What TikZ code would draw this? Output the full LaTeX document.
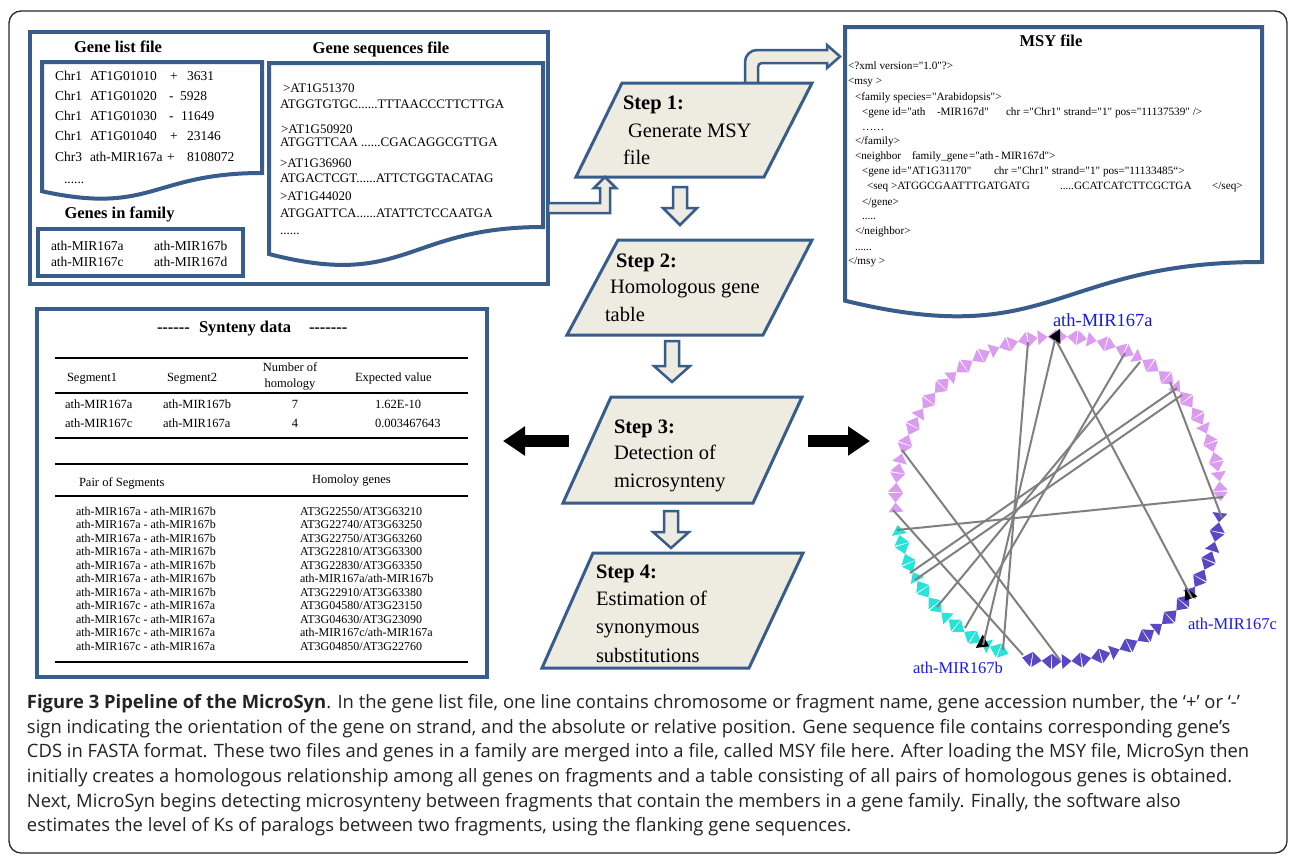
\documentclass[tikz,border=0pt]{standalone}
\usepackage{fontspec}
\newfontfamily\tnr{Liberation Serif}
\newfontfamily\capfont{Open Sans}
\usetikzlibrary{arrows.meta}
\definecolor{bluebd}{RGB}{56,93,138}
\definecolor{beige}{RGB}{238,236,225}
\definecolor{violetm}{RGB}{218,155,240}
\definecolor{cyanm}{RGB}{40,228,216}
\definecolor{indigom}{RGB}{88,72,196}
\definecolor{labblue}{RGB}{25,25,225}
\definecolor{linegray}{RGB}{128,128,128}
\definecolor{framegray}{RGB}{40,40,40}
\definecolor{captgray}{RGB}{35,35,35}
\newcommand\docpath[4]{(#1,#2) -- ({#1+#3},#2) -- ({#1+#3},{#2+0.802*#4}) .. controls ({#1+#3/2},{#2+0.802*#4}) and ({#1+#3/2},{#2+1.1075*#4}) .. (#1,{#2+0.934*#4}) -- cycle}
\begin{document}
\begin{tikzpicture}[x=1pt,y=-1pt,
  every node/.style={inner sep=0pt, outer sep=0pt},
  gl/.style={anchor=base west, font=\tnr\fontsize{13.5}{16}\selectfont},
  sq/.style={anchor=base west, font=\tnr\fontsize{13}{15}\selectfont},
  ttl/.style={anchor=base, font=\tnr\bfseries\fontsize{16.5}{20}\selectfont},
  ttlw/.style={anchor=base west, font=\tnr\bfseries\fontsize{16.5}{20}\selectfont},
  xml/.style={anchor=base west, font=\tnr\fontsize{11.2}{13}\selectfont},
  stp/.style={anchor=base west, font=\tnr\fontsize{20.5}{24}\selectfont},
  stpb/.style={anchor=base west, font=\tnr\bfseries\fontsize{20.5}{24}\selectfont},
  tb/.style={anchor=base west, font=\tnr\fontsize{12.5}{15}\selectfont},
  tbc/.style={anchor=base, font=\tnr\fontsize{12.5}{15}\selectfont},
  tc/.style={anchor=base west, font=\tnr\fontsize{12}{14}\selectfont},
  lab/.style={anchor=base west, text=labblue, font=\tnr\fontsize{16.5}{20}\selectfont},
  capt/.style={anchor=base west, text=captgray, font=\capfont\fontsize{18.4}{22}\selectfont},
  stepbox/.style={draw=bluebd, line width=3, fill=beige, line join=miter},
  hollow/.style={draw=bluebd, line width=2.5, fill=beige, line join=miter},
  bluebox/.style={draw=bluebd, line width=4, fill=white, line join=miter},
  rule/.style={line width=2.5, black},
  chord/.style={linegray, line width=2},
  blkarrow/.style={line width=12, -{Triangle[length=22pt,width=28pt]}}
]
\useasboundingbox (0,0) rectangle (1290,855);
\fill[white] (0,0) rectangle (1290,855);
\draw[framegray, line width=1.3, rounded corners=12] (9,11) rectangle (1287,853);

% ---------- input block ----------
\draw[bluebox] (30,32) rectangle (548,284);
\draw[bluebox] \docpath{42}{62}{220}{138.4};
\draw[bluebox] \docpath{269}{63}{274}{204.5};
\draw[bluebox] (38,229) rectangle (243,276);

\node[ttl] (tgl) at (118,52) {Gene list file};
\node[ttl] (tgf) at (119.5,218) {Genes in family};
\node[ttl] (tgs) at (381,53) {Gene sequences file};

\node[gl] (g1a) at (55,80) {Chr1}; \node[gl] (g1b) at (90,80) {AT1G01010}; \node[gl] (g1c) at (170,80) {+}; \node[gl] (g1d) at (187,80) {3631};
\node[gl] (g2a) at (55,100) {Chr1}; \node[gl] (g2b) at (90,100) {AT1G01020}; \node[gl] (g2c) at (169,100) {-}; \node[gl] (g2d) at (180,100) {5928};
\node[gl] (g3a) at (55,120) {Chr1}; \node[gl] (g3b) at (90,120) {AT1G01030}; \node[gl] (g3c) at (169,120) {-}; \node[gl] (g3d) at (181,120) {11649};
\node[gl] (g4a) at (55,140) {Chr1}; \node[gl] (g4b) at (90,140) {AT1G01040}; \node[gl] (g4c) at (170,140) {+}; \node[gl] (g4d) at (187,140) {23146};
\node[gl] (g5a) at (55,161) {Chr3}; \node[gl] (g5b) at (90,161) {ath-MIR167a}; \node[gl] (g5c) at (167,161) {+}; \node[gl] (g5d) at (187,161) {8108072};
\node[gl] (g6) at (64,183) {......};

\node[gl] (f1) at (51,250.5) {ath-MIR167a};
\node[gl] (f2) at (154,250.5) {ath-MIR167b};
\node[gl] (f3) at (51,266.5) {ath-MIR167c};
\node[gl] (f4) at (154,266.5) {ath-MIR167d};

\node[sq] (s1) at (283,92) {>AT1G51370};
\node[sq] (s2) at (280,108) {ATGGTGTGC......TTTAACCCTTCTTGA};
\node[sq] (s3) at (281,133) {>AT1G50920};
\node[sq] (s4) at (280,146) {ATGGTTCAA ......CGACAGGCGTTGA};
\node[sq] (s5) at (280,167) {>AT1G36960};
\node[sq] (s6) at (280,182) {ATGACTCGT......ATTCTGGTACATAG};
\node[sq] (s7) at (280,200) {>AT1G44020};
\node[sq] (s8) at (280,217) {ATGGATTCA......ATATTCTCCAATGA};
\node[sq] (s9) at (280,234) {......};

% ---------- MSY file ----------
\draw[bluebox] \docpath{845}{27}{417}{293};
\node[ttl] (tmsy) at (1051,46) {MSY file};
\node[xml] (x1) at (848,69) {<?xml version="1.0"?>};
\node[xml] (x2) at (848,84) {<msy >};
\node[xml] (x3) at (855,100) {<family species="Arabidopsis">};
\node[xml] (x4a) at (862,115) {<gene id="ath};
\node[xml] (x4b) at (937,115) {-MIR167d"};
\node[xml] (x4c) at (1006,115) {chr ="Chr1" strand="1" pos="11137539" />};
\node[xml] (x5) at (862,130) {……};
\node[xml] (x6) at (855,144) {</family>};
\node[xml] (x7a) at (855,159) {<neighbor};
\node[xml] (x7b) at (912,159) {family\_gene};
\node[xml] (x7c) at (969,159) {="ath\,-\,MIR167d">};
\node[xml] (x8a) at (862,174) {<gene id="AT1G31170"};
\node[xml] (x8b) at (994,174) {chr ="Chr1" strand="1" pos="11133485“>};
\node[xml] (x9a) at (867,189) {<seq >ATGGCGAATTTGATGATG};
\node[xml] (x9b) at (1060,189) {.....GCATCATCTTCGCTGA};
\node[xml] (x9c) at (1212,189) {</seq>};
\node[xml] (x10) at (862,205) {</gene>};
\node[xml] (x11) at (862,219) {.....};
\node[xml] (x12) at (855,234) {</neighbor>};
\node[xml] (x13) at (855,250) {......};
\node[xml] (x14) at (848,264) {</msy >};

% ---------- arrow step1 -> MSY (behind step 1) ----------
\draw[hollow] (745,86) -- (745,62) arc[start angle=180, end angle=270, radius=12] -- (827,50) -- (827,45) -- (840,56.5) -- (827,68) -- (827,63) -- (762,63) arc[start angle=270, end angle=180, radius=4] -- (758,86) -- cycle;

% ---------- steps ----------
\draw[stepbox] (622,83) -- (812,83) -- (764,177) -- (576,177) -- cycle;
\draw[stepbox] (618,240) -- (812,240) -- (763,335) -- (567,335) -- cycle;
\draw[stepbox] (611,397) -- (802,397) -- (753,503) -- (563,503) -- cycle;
\draw[stepbox] (593,553) -- (803,553) -- (749,668) -- (542,668) -- cycle;

\node[stpb] (st1a) at (623,109) {Step 1:};
\node[stp] (st1b) at (628,137) {Generate MSY};
\node[stp] (st1c) at (623,164) {file};
\node[stpb] (st2a) at (616,267) {Step 2:};
\node[stp] (st2b) at (610,293) {Homologous gene};
\node[stp] (st2c) at (605,321) {table};
\node[stpb] (st3a) at (614,433) {Step 3:};
\node[stp] (st3b) at (614,459) {Detection of};
\node[stp] (st3c) at (614,487) {microsynteny};
\node[stpb] (st4a) at (596,578) {Step 4:};
\node[stp] (st4b) at (596,605) {Estimation of};
\node[stp] (st4c) at (596,633) {synonymous};
\node[stp] (st4d) at (596,662) {substitutions};

% ---------- hollow arrows ----------
\draw[hollow] (548,203) -- (600,203) -- (600,188) -- (594,188) -- (605,177) -- (616,188) -- (610,188) -- (610,213) -- (548,213) -- cycle;
\draw[hollow] (673,187) -- (687,187) -- (687,208) -- (697,208) -- (680,225) -- (663,208) -- (673,208) -- cycle;
\draw[hollow] (665,341) -- (679,341) -- (679,366) -- (690,366) -- (672,382) -- (654,366) -- (665,366) -- cycle;
\draw[hollow] (664,511) -- (678,511) -- (678,532) -- (689,532) -- (671,548) -- (653,532) -- (664,532) -- cycle;

% ---------- black arrows ----------
\coordinate (la1) at (569,441); \coordinate (la2) at (503,441);
\coordinate (ra1) at (808,441); \coordinate (ra2) at (870,441);
\draw[blkarrow] (la1) -- (la2);
\draw[blkarrow] (ra1) -- (ra2);

% ---------- synteny data ----------
\draw[bluebox] (37,309) rectangle (487,677);
\node[ttlw] (sd1) at (157,332) {------};
\node[ttlw] (sd2) at (199,332) {Synteny data};
\node[ttlw] (sd3) at (309,332) {-------};
\draw[rule] (55,358) -- (468,358);
\draw[rule] (55,393) -- (468,393);
\draw[rule] (55,438) -- (468,438);
\node[tb] (h1) at (67,381) {Segment1};
\node[tb] (h2) at (167,381) {Segment2};
\node[tbc] (h3) at (290,371) {Number of};
\node[tbc] (h4) at (290,387) {homology};
\node[tb] (h5) at (355,381) {Expected value};
\node[tb] (r1a) at (65,408) {ath-MIR167a};
\node[tb] (r1b) at (163,408) {ath-MIR167b};
\node[tbc] (r1c) at (295,408) {7};
\node[tb] (r1d) at (375,408) {1.62E-10};
\node[tb] (r2a) at (65,427) {ath-MIR167c};
\node[tb] (r2b) at (163,427) {ath-MIR167a};
\node[tbc] (r2c) at (295,427) {4};
\node[tb] (r2d) at (375,427) {0.003467643};

\draw[rule] (55,464) -- (468,464);
\draw[rule] (55,496) -- (468,496);
\draw[rule] (55,662) -- (468,662);
\node[tb] (p0) at (79,486) {Pair of Segments};
\node[tb] (q0) at (312,483) {Homoloy genes};
\node[tc] (p1) at (76,515) {ath-MIR167a - ath-MIR167b};
\node[tc] (p2) at (76,528.5) {ath-MIR167a - ath-MIR167b};
\node[tc] (p3) at (76,542) {ath-MIR167a - ath-MIR167b};
\node[tc] (p4) at (76,555.5) {ath-MIR167a - ath-MIR167b};
\node[tc] (p5) at (76,569) {ath-MIR167a - ath-MIR167b};
\node[tc] (p6) at (76,582.5) {ath-MIR167a - ath-MIR167b};
\node[tc] (p7) at (76,596) {ath-MIR167a - ath-MIR167b};
\node[tc] (p8) at (76,609.5) {ath-MIR167c - ath-MIR167a};
\node[tc] (p9) at (76,623) {ath-MIR167c - ath-MIR167a};
\node[tc] (p10) at (76,636.5) {ath-MIR167c - ath-MIR167a};
\node[tc] (p11) at (76,650) {ath-MIR167c - ath-MIR167a};
\node[tc] (q1) at (300,515) {AT3G22550/AT3G63210};
\node[tc] (q2) at (300,528.5) {AT3G22740/AT3G63250};
\node[tc] (q3) at (300,542) {AT3G22750/AT3G63260};
\node[tc] (q4) at (300,555.5) {AT3G22810/AT3G63300};
\node[tc] (q5) at (300,569) {AT3G22830/AT3G63350};
\node[tc] (q6) at (300,582.5) {ath-MIR167a/ath-MIR167b};
\node[tc] (q7) at (300,596) {AT3G22910/AT3G63380};
\node[tc] (q8) at (300,609.5) {AT3G04580/AT3G23150};
\node[tc] (q9) at (300,623) {AT3G04630/AT3G23090};
\node[tc] (q10) at (300,636.5) {ath-MIR167c/ath-MIR167a};
\node[tc] (q11) at (300,650) {AT3G04850/AT3G22760};

% ---------- circle plot ----------
\begin{scope}[shift={(1058,499)}]
  \foreach \a [count=\i] in {1,4.5,...,185} {
    \pgfmathsetmacro\s{ifthenelse(mod(\i*\i+3*\i,5)<2,4.5,-4.5)}
    \pgfmathsetmacro\t{-1.1*\s}
    \fill[violetm, rotate=\a] (155,\s) -- (170,\s) -- (162.5,\t) -- cycle;
  }
  \foreach \a [count=\i] in {191,194.5,...,251} {
    \pgfmathsetmacro\s{ifthenelse(mod(\i*\i+2*\i,5)<2,4.5,-4.5)}
    \pgfmathsetmacro\t{-1.1*\s}
    \fill[cyanm, rotate=\a] (155,\s) -- (170,\s) -- (162.5,\t) -- cycle;
  }
  \foreach \a [count=\i] in {259,262.5,...,355} {
    \pgfmathsetmacro\s{ifthenelse(mod(\i*\i+\i,5)<2,4.5,-4.5)}
    \pgfmathsetmacro\t{-1.1*\s}
    \fill[indigom, rotate=\a] (155,\s) -- (170,\s) -- (162.5,\t) -- cycle;
  }
  \fill[black, rotate=91] (155,5) -- (170,5) -- (162.5,-6) -- cycle;
  \fill[black, rotate=323.4] (155,-5) -- (170,-5) -- (162.5,6) -- cycle;
  \fill[black, rotate=242.8] (155,5) -- (170,5) -- (162.5,-6) -- cycle;
\end{scope}

\coordinate (e1a) at (1028,342); \coordinate (e1b) at (1003,650);
\coordinate (e2a) at (1055,340); \coordinate (e2b) at (983,645);
\coordinate (e3a) at (1057,342); \coordinate (e3b) at (1192,598);
\coordinate (e4a) at (1125,353); \coordinate (e4b) at (965,628);
\coordinate (e5a) at (1140,362); \coordinate (e5b) at (937,607);
\coordinate (e6a) at (1170,382); \coordinate (e6b) at (1222,518);
\coordinate (e7a) at (1177,388); \coordinate (e7b) at (910,573);
\coordinate (e8a) at (1182,395); \coordinate (e8b) at (915,580);
\coordinate (e9a) at (1223,497); \coordinate (e9b) at (897,530);
\coordinate (e10a) at (902,450); \coordinate (e10b) at (1060,660);
\coordinate (e11a) at (893,510); \coordinate (e11b) at (1023,655);
\foreach \k in {1,...,11} { \draw[chord] (e\k a) -- (e\k b); }

\node[lab, font=\tnr\fontsize{18.5}{22}\selectfont] (la) at (1053,326) {ath-MIR167a};
\node[lab] (lc) at (1188,629) {ath-MIR167c};
\node[lab] (lb) at (913,673) {ath-MIR167b};

% ---------- caption ----------
\node[capt] (c1) at (27,708) {\textbf{Figure 3 Pipeline of the MicroSyn}. In the gene list file, one line contains chromosome or fragment name, gene accession number, the ‘+’ or ‘-’};
\node[capt] (c2) at (27,733) {sign indicating the orientation of the gene on strand, and the absolute or relative position. Gene sequence file contains corresponding gene’s};
\node[capt] (c3) at (27,757) {CDS in FASTA format. These two files and genes in a family are merged into a file, called MSY file here. After loading the MSY file, MicroSyn then};
\node[capt] (c4) at (27,782) {initially creates a homologous relationship among all genes on fragments and a table consisting of all pairs of homologous genes is obtained.};
\node[capt] (c5) at (27,807) {Next, MicroSyn begins detecting microsynteny between fragments that contain the members in a gene family. Finally, the software also};
\node[capt] (c6) at (27,831) {estimates the level of Ks of paralogs between two fragments, using the flanking gene sequences.};
\end{tikzpicture}
\end{document}
